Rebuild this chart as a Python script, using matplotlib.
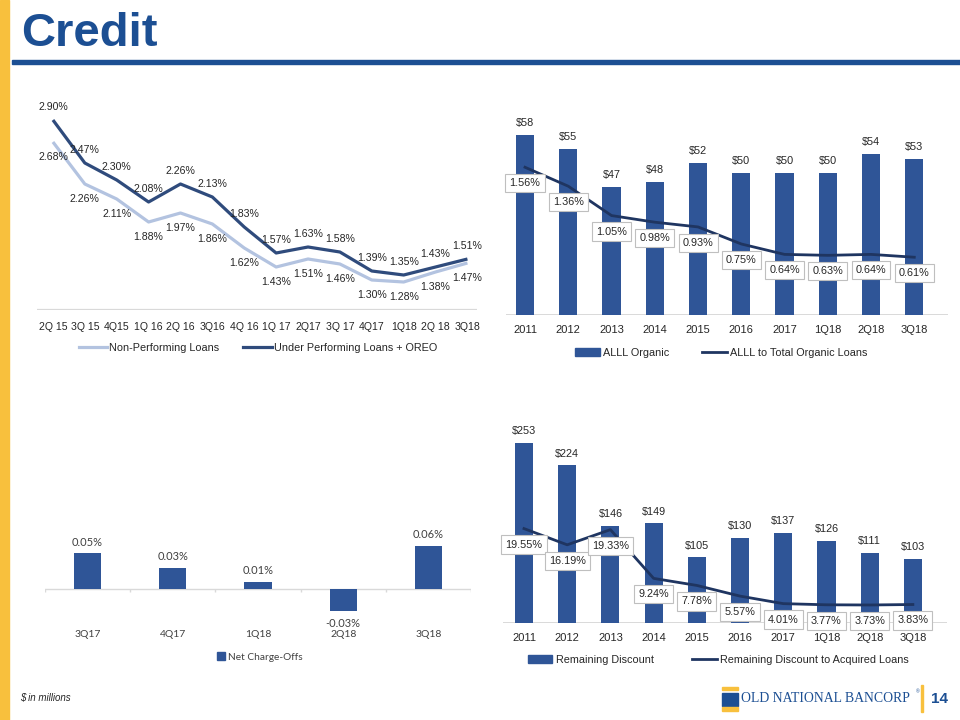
import matplotlib
matplotlib.use("Agg")
import matplotlib.pyplot as plt
from matplotlib.patches import Rectangle
from matplotlib.lines import Line2D

# ---- data ----
quarters_tl = ["2Q 15", "3Q 15", "4Q15", "1Q 16", "2Q 16", "3Q16", "4Q 16",
               "1Q 17", "2Q17", "3Q 17", "4Q17", "1Q18", "2Q 18", "3Q18"]
npl = [2.68, 2.26, 2.11, 1.88, 1.97, 1.86, 1.62, 1.43, 1.51, 1.46, 1.30, 1.28, 1.38, 1.47]
uper_oreo = [2.90, 2.47, 2.30, 2.08, 2.26, 2.13, 1.83, 1.57, 1.63, 1.58, 1.39, 1.35, 1.43, 1.51]

periods = ["2011", "2012", "2013", "2014", "2015", "2016", "2017", "1Q18", "2Q18", "3Q18"]
alll = [58, 55, 47, 48, 52, 50, 50, 50, 54, 53]
alll_pct = [1.56, 1.36, 1.05, 0.98, 0.93, 0.75, 0.64, 0.63, 0.64, 0.61]

nco_q = ["3Q17", "4Q17", "1Q18", "2Q18", "3Q18"]
nco = [0.05, 0.03, 0.01, -0.03, 0.06]

discount = [253, 224, 146, 149, 105, 130, 137, 126, 111, 103]
discount_pct = [19.55, 16.19, 19.33, 9.24, 7.78, 5.57, 4.01, 3.77, 3.73, 3.83]

BLUE_TITLE = "#1C4F93"
YELLOW = "#F8C03D"
BAR = "#2F5597"
NAVY = "#1F3561"
DARK_LINE = "#2F4B7C"
LIGHT_LINE = "#B3C3E0"
TXT = "#262626"
GRID = "#D9D9D9"

W, H = 960, 720
plt.rcParams["font.family"] = ["Liberation Sans", "DejaVu Sans"]

fig = plt.figure(figsize=(9.6, 7.2), dpi=100)


def px_axes(x0, y0, x1, y1):
    # pixel box (top-left origin) -> figure axes
    return fig.add_axes([x0 / W, 1 - y1 / H, (x1 - x0) / W, (y1 - y0) / H])


def fx(x):
    return x / W


def fy(y):
    return 1 - y / H


def clean(ax):
    for s in ax.spines.values():
        s.set_visible(False)
    ax.set_yticks([])
    ax.tick_params(axis="x", length=0)
    ax.patch.set_alpha(0)


# ---- frame ----
fig.patches.append(Rectangle((0, 0), fx(9), 1, transform=fig.transFigure,
                             color=YELLOW, zorder=0))
fig.patches.append(Rectangle((fx(12), fy(64)), 1, 4 / H, transform=fig.transFigure,
                             color=BLUE_TITLE, zorder=0))
fig.text(fx(21), fy(34), "Credit", fontsize=34, fontweight="bold",
         color=BLUE_TITLE, va="center", ha="left")

# ---- top-left: NPL lines ----
ax1 = px_axes(37, 100, 477, 310)
clean(ax1)
x = range(len(quarters_tl))
ax1.plot(x, npl, color=LIGHT_LINE, lw=2.3, solid_capstyle="butt")
ax1.plot(x, uper_oreo, color=DARK_LINE, lw=2.3, solid_capstyle="butt")
ax1.set_xlim(-0.5, 13.3)
ax1.set_ylim(1.0, 3.1)
ax1.axhline(1.0, color=GRID, lw=1.6)
ax1.set_xticks(list(x))
ax1.set_xticklabels(quarters_tl, fontsize=7.6, color=TXT)
ax1.tick_params(axis="x", pad=9)
for i, v in enumerate(uper_oreo):
    ax1.annotate(f"{v:.2f}%", (i, v), xytext=(0, 9.5), textcoords="offset points",
                 ha="center", va="center", fontsize=7.6, color=TXT)
for i, v in enumerate(npl):
    ax1.annotate(f"{v:.2f}%", (i, v), xytext=(0, -11), textcoords="offset points",
                 ha="center", va="center", fontsize=7.6, color=TXT)
h1 = [Line2D([], [], color=LIGHT_LINE, lw=2.3), Line2D([], [], color=DARK_LINE, lw=2.3)]
fig.legend(h1, ["Non-Performing Loans", "Under Performing Loans + OREO"],
           loc="center", bbox_to_anchor=(fx(258), fy(348)), ncol=2, frameon=False,
           fontsize=7.8, handlelength=2.6, handletextpad=0.2, columnspacing=2.2,
           labelcolor=TXT)


def bar_line_chart(box, cats, bars, pct, bar_ylim, pct_ylim, xlim):
    ax = px_axes(*box)
    clean(ax)
    xs = range(len(cats))
    ax.bar(xs, [b - bar_ylim[0] for b in bars], bottom=bar_ylim[0], width=0.42,
           color=BAR, zorder=2)
    ax.set_ylim(*bar_ylim)
    ax.set_xlim(*xlim)
    ax.axhline(bar_ylim[0], color=GRID, lw=1.4, zorder=1)
    ax.set_xticks(list(xs))
    ax.set_xticklabels(cats, fontsize=8, color=TXT)
    ax.tick_params(axis="x", pad=7.5)
    for i, b in enumerate(bars):
        ax.annotate(f"${b}", (i, b), xytext=(0, 8.5), textcoords="offset points",
                    ha="center", va="center", fontsize=7.8, color=TXT)
    ax2 = ax.twinx()
    clean(ax2)
    ax2.plot(xs, pct, color=NAVY, lw=2.0, zorder=3)
    ax2.set_ylim(*pct_ylim)
    for i, v in enumerate(pct):
        ax2.annotate(f"{v:.2f}%", (i, v), xytext=(0, -11.5), textcoords="offset points",
                     ha="center", va="center", fontsize=7.8, color=TXT,
                     bbox=dict(boxstyle="square,pad=0.38", fc="white", ec="#BFBFBF", lw=0.8))
    return ax


# ---- top-right: ALLL ----
bar_line_chart((506, 113, 948, 315), periods, alll, alll_pct,
               (20, 62.6), (0, 2.133), (-0.44, 9.78))
h2 = [Rectangle((0, 0), 1, 1, color=BAR), Line2D([], [], color=NAVY, lw=2.0)]
fig.legend(h2, ["ALLL Organic", "ALLL to Total Organic Loans"],
           loc="center", bbox_to_anchor=(fx(721), fy(353)), ncol=2, frameon=False,
           fontsize=7.8, handlelength=2.3, handletextpad=0.3, columnspacing=3.0,
           labelcolor=TXT)

# ---- bottom-left: net charge-offs ----
ax3 = px_axes(45, 530, 471, 622)
clean(ax3)
xs = range(len(nco_q))
ax3.bar(xs, nco, width=0.32, color=BAR, zorder=2)
ax3.set_xlim(-0.5, 4.5)
ax3.set_ylim(-0.046, 0.0823)
ax3.axhline(0, color=GRID, lw=1.0, zorder=1)
ax3.vlines([i - 0.5 for i in range(len(nco_q) + 1)], -0.004, 0, color=GRID, lw=1.0)
ax3.set_xticks(list(xs))
ax3.set_xticklabels(nco_q, fontsize=7.5, color="#404040", family=["Lato", "DejaVu Sans"])
ax3.tick_params(axis="x", pad=6)
for i, v in enumerate(nco):
    off = 8 if v >= 0 else -9
    ax3.annotate(f"{v:.2f}%", (i, v), xytext=(0, off), textcoords="offset points",
                 ha="center", va="center", fontsize=8, color="#404040",
                 family=["Lato", "DejaVu Sans"])
fig.legend([Rectangle((0, 0), 1, 1, color=BAR)], ["Net Charge-Offs"],
           loc="center", bbox_to_anchor=(fx(260), fy(657)), frameon=False,
           handlelength=0.8, handleheight=0.8, handletextpad=0.3,
           labelcolor="#404040", prop={"family": ["Lato", "DejaVu Sans"], "size": 7.3})

# ---- bottom-right: remaining discount ----
bar_line_chart((503, 425, 947, 623), periods, discount, discount_pct,
               (20, 276.3), (0, 41.0), (-0.486, 9.79))
fig.legend(h2, ["Remaining Discount", "Remaining Discount to Acquired Loans"],
           loc="center", bbox_to_anchor=(fx(718), fy(660)), ncol=2, frameon=False,
           fontsize=7.8, handlelength=2.3, handletextpad=0.3, columnspacing=3.5,
           labelcolor=TXT)

# ---- footer ----
fig.text(fx(20), fy(698), "$ in millions", fontsize=7, style="italic", color=TXT,
         va="center", ha="left")
fig.patches.append(Rectangle((fx(722), fy(690)), 16 / W, 3 / H,
                             transform=fig.transFigure, color=YELLOW))
fig.patches.append(Rectangle((fx(722), fy(706)), 16 / W, 13 / H,
                             transform=fig.transFigure, color=BLUE_TITLE))
fig.patches.append(Rectangle((fx(722), fy(711)), 16 / W, 4 / H,
                             transform=fig.transFigure, color=YELLOW))
fig.text(fx(741), fy(699), "OLD NATIONAL BANCORP", fontsize=9.9,
         family=["Liberation Serif", "DejaVu Serif"], color=BLUE_TITLE,
         va="center", ha="left")
fig.text(fx(916), fy(692), "®", fontsize=3.5, color=BLUE_TITLE, va="center", ha="left")
fig.patches.append(Rectangle((fx(921), fy(712)), 1.5 / W, 27 / H,
                             transform=fig.transFigure, color=YELLOW))
fig.text(fx(931), fy(699), "14", fontsize=11, fontweight="bold", color=BLUE_TITLE,
         va="center", ha="left")

fig.savefig("out.png", dpi=100)
